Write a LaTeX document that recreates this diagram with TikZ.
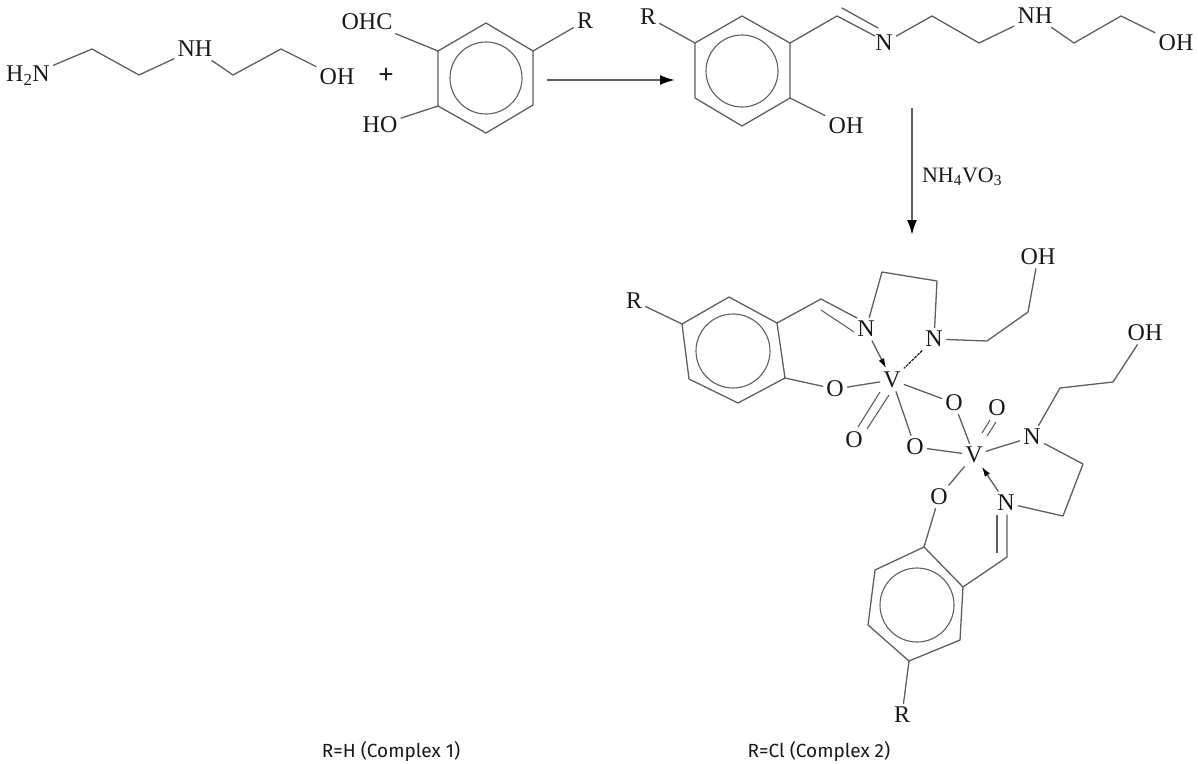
\documentclass[tikz,border=0pt]{standalone}
\usepackage{fontspec}
\setmainfont{Liberation Serif}
\newfontfamily\captionfont{Fira Sans}
\usetikzlibrary{arrows.meta}
\tikzstyle{every path}=[line width=1.3pt]
\definecolor{bondline}{RGB}{95,95,95}
\definecolor{atomtext}{RGB}{25,25,25}
\tikzstyle{bond}=[draw=bondline, line cap=round, line join=round]
\tikzstyle{thinbond}=[draw=bondline, line width=1.1pt]
\tikzstyle{dotbond}=[draw=atomtext, line width=1.2pt, dash pattern=on 3pt off 1pt]
\tikzstyle{dative}=[draw=atomtext!70, -{Latex[length=10pt,width=6pt,color=black]}]
\tikzstyle{react}=[draw=bondline, line width=2pt, -{Latex[length=15pt,width=10pt,color=black]}]
\tikzstyle{atom}=[text=atomtext, inner sep=3pt, font=\fontsize{24}{24}\selectfont]
\tikzstyle{note}=[text=atomtext, inner sep=0pt, font=\captionfont\fontsize{19}{19}\selectfont]
\tikzstyle{ringline}=[draw=bondline, line width=1.1pt]

\begin{document}
\begin{tikzpicture}[x=1pt, y=-1pt]
    \useasboundingbox (0, 0) rectangle (1198, 763);

    % amine
    \node[atom] (amN) at (28, 76) {H\textsubscript{2}N};
    \node[atom] (amNH) at (195, 49) {NH};
    \node[atom] (amOH) at (337, 77) {OH};
    \node[atom, font=\fontsize{27}{27}\selectfont] (plus) at (386, 76) {\textbf{+}};
    \coordinate (am2) at (92, 49);
    \coordinate (am3) at (139, 75);
    \coordinate (am6) at (233, 75);
    \coordinate (am7) at (281, 49);
    \draw[bond] (amN) -- (am2) -- (am3) -- (amNH) -- (am6) -- (am7) -- (amOH);

    % aldehyde
    \node[atom] (alOHC) at (367, 22) {OHC};
    \node[atom] (alHO) at (380, 125) {HO};
    \node[atom] (alR) at (585, 21) {R};
    \coordinate (alA) at (438, 51);
    \coordinate (alB) at (486, 23);
    \coordinate (alC) at (533, 51);
    \coordinate (alD) at (533, 105);
    \coordinate (alE) at (486, 133);
    \coordinate (alF) at (438, 106);
    \coordinate (alO) at (486, 78);
    \draw[bond] (alA) -- (alB) -- (alC) -- (alD) -- (alE) -- (alF) -- cycle;
    \draw[ringline] (alO) circle (36);
    \draw[bond] (alOHC) -- (alA);
    \draw[bond] (alHO) -- (alF);
    \draw[bond] (alR) -- (alC);

    \coordinate (arA) at (547, 80);
    \coordinate (arB) at (675, 80);
    \draw[react] (arA) -- (arB);

    % schiff base
    \node[atom] (scR) at (648, 17) {R};
    \node[atom] (scOH) at (846, 126) {OH};
    \node[atom] (scN) at (884, 43) {N};
    \node[atom] (scNH) at (1035, 16) {NH};
    \node[atom] (scOHb) at (1176, 43) {OH};
    \coordinate (scA) at (695, 43);
    \coordinate (scB) at (742, 16);
    \coordinate (scC) at (790, 43);
    \coordinate (scD) at (790, 98);
    \coordinate (scE) at (742, 126);
    \coordinate (scF) at (695, 98);
    \coordinate (scO) at (742, 71);
    \coordinate (sc3) at (837, 16);
    \coordinate (sc4) at (875, 36);
    \coordinate (sc5) at (842, 8);
    \coordinate (sc6) at (878, 28);
    \coordinate (sc8) at (932, 16);
    \coordinate (sc9) at (979, 43);
    \coordinate (sc12) at (1074, 43);
    \coordinate (sc13) at (1121, 16);
    \draw[bond] (scA) -- (scB) -- (scC) -- (scD) -- (scE) -- (scF) -- cycle;
    \draw[ringline] (scO) circle (36);
    \draw[bond] (scR) -- (scA);
    \draw[bond] (scD) -- (scOH);
    \draw[bond] (scC) -- (sc3) -- (sc4);
    \draw[bond] (sc5) -- (sc6);
    \draw[bond] (scN) -- (sc8) -- (sc9) -- (scNH) -- (sc12) -- (sc13) -- (scOHb);

    \coordinate (arC) at (912, 108);
    \coordinate (arD) at (912, 235);
    \draw[react] (arC) -- (arD);
    \node[atom, font=\fontsize{22}{22}\selectfont] (reagent) at (962, 177) {NH\textsubscript{4}VO\textsubscript{3}};

    % complex, upper half
    \node[atom] (upR) at (634, 301) {R};
    \node[atom] (upN) at (866, 329) {N};
    \node[atom] (upNb) at (934, 339) {N};
    \node[atom] (upV) at (892, 380) {V};
    \node[atom] (upO) at (835, 389) {O};
    \node[atom] (upOx) at (854, 440) {O};
    \node[atom] (brA) at (954, 403) {O};
    \node[atom] (brB) at (915, 447) {O};
    \node[atom] (upOH) at (1038, 257) {OH};
    \coordinate (upA) at (682, 324);
    \coordinate (upB) at (729, 297);
    \coordinate (upC) at (777, 323);
    \coordinate (upD) at (785, 378);
    \coordinate (upE) at (738, 403);
    \coordinate (upF) at (689, 379);
    \coordinate (upZ) at (733, 351);
    \coordinate (up3) at (821, 299);
    \coordinate (up4) at (857, 318);
    \coordinate (up5) at (821, 310);
    \coordinate (up6) at (854, 332);
    \coordinate (up7) at (882, 272);
    \coordinate (up8) at (937, 281);
    \coordinate (up9) at (987, 341);
    \coordinate (up10) at (1028, 312);
    \coordinate (upOxA) at (858, 427);
    \coordinate (upOxB) at (867, 429);
    \coordinate (upVa) at (880, 392);
    \coordinate (upVb) at (889, 395);
    \draw[bond] (upA) -- (upB) -- (upC) -- (upD) -- (upE) -- (upF) -- cycle;
    \draw[ringline] (upZ) circle (37);
    \draw[bond] (upR) -- (upA);
    \draw[bond] (upC) -- (up3) -- (up4);
    \draw[thinbond] (up5) -- (up6);
    \draw[bond] (upN) -- (up7) -- (up8) -- (upNb) -- (up9) -- (up10) -- (upOH);
    \draw[dative] (upN) -- (upV);
    \draw[dotbond] (upNb) -- (upV);
    \draw[bond] (upD) -- (upO);
    \draw[bond] (upO) -- (upV);
    \draw[thinbond] (upOxA) -- (upVa);
    \draw[thinbond] (upOxB) -- (upVb);
    \draw[bond] (upV) -- (brA);
    \draw[bond] (upV) -- (brB);

    % complex, lower half
    \node[atom] (loV) at (974, 455) {V};
    \node[atom] (loOx) at (997, 408) {O};
    \node[atom] (loN) at (1032, 437) {N};
    \node[atom] (loNb) at (1006, 503) {N};
    \node[atom] (loO) at (939, 497) {O};
    \node[atom] (loOH) at (1145, 333) {OH};
    \node[atom] (loR) at (902, 715) {R};
    \coordinate (loA) at (924, 547);
    \coordinate (loB) at (963, 587);
    \coordinate (loC) at (960, 640);
    \coordinate (loD) at (909, 661);
    \coordinate (loE) at (868, 625);
    \coordinate (loF) at (875, 570);
    \coordinate (loZ) at (917, 605);
    \coordinate (lo3) at (1060, 388);
    \coordinate (lo4) at (1113, 382);
    \coordinate (lo5) at (1083, 464);
    \coordinate (lo6) at (1063, 516);
    \coordinate (lo7) at (1007, 557);
    \coordinate (lo8) at (1007, 515);
    \coordinate (lo9) at (997, 553);
    \coordinate (lo10) at (997, 515);
    \coordinate (loOxA) at (990, 420);
    \coordinate (loOxB) at (996, 422);
    \coordinate (loVa) at (982, 433);
    \coordinate (loVb) at (987, 436);
    \draw[bond] (loA) -- (loB) -- (loC) -- (loD) -- (loE) -- (loF) -- cycle;
    \draw[ringline] (loZ) circle (37);
    \draw[bond] (brA) -- (loV);
    \draw[bond] (brB) -- (loV);
    \draw[thinbond] (loVa) -- (loOxA);
    \draw[thinbond] (loVb) -- (loOxB);
    \draw[bond] (loV) -- (loN);
    \draw[bond] (loN) -- (lo3) -- (lo4) -- (loOH);
    \draw[bond] (loN) -- (lo5) -- (lo6) -- (loNb);
    \draw[dative] (loNb) -- (loV);
    \draw[bond] (loV) -- (loO);
    \draw[bond] (loO) -- (loA);
    \draw[bond] (loB) -- (lo7) -- (lo8);
    \draw[thinbond] (lo9) -- (lo10);
    \draw[bond] (loD) -- (loR);

    \node[note] (capA) at (391, 751) {R=H (Complex 1)};
    \node[note] (capB) at (819, 751) {R=Cl (Complex 2)};
\end{tikzpicture}
\end{document}
